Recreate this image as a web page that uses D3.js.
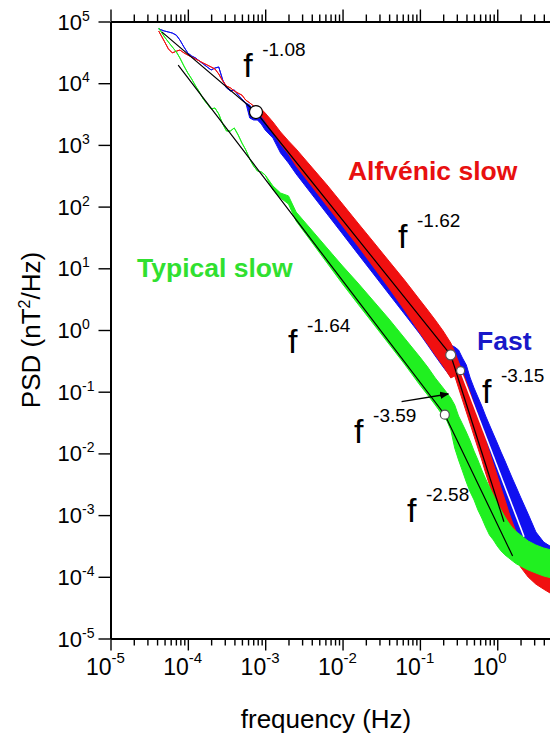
<!DOCTYPE html>
<html><head><meta charset="utf-8">
<script src="https://cdn.jsdelivr.net/npm/d3@7"></script>
<style>body{margin:0;background:#fff}svg{display:block}text{font-family:"Liberation Sans",Arial,sans-serif}</style>
</head><body><svg id="c" width="550" height="740"></svg>
<script>
// ---- data (frequency in Hz, PSD in nT^2/Hz) ----
const freq = [4.2e-5,5.0e-5,5.6e-5,6.3e-5,7.1e-5,7.9e-5,8.9e-5,1.0e-4,1.12e-4,1.26e-4,1.41e-4,1.58e-4,1.78e-4,2.0e-4,2.24e-4,2.51e-4,2.82e-4,3.16e-4,3.55e-4,3.98e-4,4.47e-4,5.01e-4,5.62e-4,6.31e-4,7.08e-4,7.94e-4,8.91e-4,1.0e-3,
  1.26e-3,1.58e-3,2.0e-3,2.51e-3,3.98e-3,6.31e-3,0.01,0.0158,0.0251,0.0398,0.0631,0.1,0.126,0.158,0.2,0.224,0.251,
  0.282,0.316,0.355,0.398,0.447,0.501,0.562,0.631,0.708,0.794,0.891,1.0,1.12,1.26,1.41,1.58,1.78,2.0,2.51,3.16,3.98,5.01];

const alfvenicHi = [7.0e4,4.7e4,3.6e4,3.1e4,3.3e4,3.45e4,3.1e4,2.86e4,2.66e4,2.47e4,2.29e4,2.12e4,1.97e4,1.83e4,1.70e4,1.41e4,1.09e4,9.0e3,8.4e3,7.5e3,6.9e3,6.4e3,5.3e3,4.8e3,4.27e3,4.27e3,3.82e3,3.29e3,
  2.35e3,1.62e3,1.16e3,859,438,224,110,54.2,26.7,13.1,6.46,3.06,2.11,1.45,0.963,0.770,0.615,
  0.440,0.303,0.209,0.144,0.0953,0.0609,0.0419,0.0268,0.0165,0.0105,0.00673,0.00430,0.00275,0.00176,0.00112,7.45e-4,5.13e-4,3.66e-4,2.26e-4,1.67e-4,1.34e-4,1.11e-4];
const alfvenicLo = [7.0e4,4.7e4,3.6e4,3.1e4,3.3e4,3.45e4,3.1e4,2.86e4,2.66e4,2.47e4,2.29e4,2.12e4,1.97e4,1.83e4,1.70e4,1.41e4,1.09e4,9.0e3,8.4e3,7.5e3,6.9e3,6.4e3,5.3e3,4.8e3,4.27e3,3.41e3,2.94e3,2.44e3,
  1.56e3,1.03e3,712,455,216,102,48.5,23.0,10.5,4.80,2.11,0.894,0.593,0.394,0.261,0.209,0.167,
  0.180,0.115,0.0733,0.0469,0.0300,0.0191,0.0122,0.00782,0.00481,0.00308,0.00196,0.00126,8.0e-4,5.13e-4,3.40e-4,2.43e-4,1.80e-4,1.44e-4,9.9e-5,7.6e-5,6.3e-5,5.3e-5];

const fastHi = [7.56e4,7.0e4,6.76e4,6.5e4,6.0e4,5.0e4,3.86e4,3.08e4,2.76e4,2.56e4,2.29e4,2.05e4,1.83e4,1.64e4,1.76e4,1.83e4,1.13e4,8.4e3,7.5e3,7.76e3,6.44e3,5.55e3,4.78e3,4.43e3,3.41e3,3.29e3,3.17e3,2.73e3,
  1.95e3,1.34e3,925,637,313,149,73.1,34.7,17.1,8.39,3.98,1.96,1.35,0.963,0.689,0.615,0.571,
  0.530,0.474,0.352,0.271,0.167,0.115,0.0820,0.0586,0.0404,0.0288,0.0206,0.01475,0.0105,0.00753,0.00538,0.00385,0.00275,0.00196,0.00104,5.32e-4,3.66e-4,3.04e-4];
const fastLo = [7.56e4,7.0e4,6.76e4,6.5e4,6.0e4,5.0e4,3.86e4,3.08e4,2.76e4,2.56e4,2.29e4,2.05e4,1.83e4,1.64e4,1.76e4,1.83e4,1.13e4,8.4e3,7.5e3,7.76e3,6.44e3,5.55e3,4.78e3,2.73e3,2.53e3,2.53e3,2.18e3,1.74e3,
  1.29e3,739,509,338,160,75.9,36.0,17.1,8.09,3.83,1.82,0.861,0.571,0.379,0.251,0.209,0.173,
  0.242,0.155,0.0989,0.0632,0.0404,0.0258,0.0165,0.0105,0.00673,0.00415,0.00265,0.00169,0.00108,6.92e-4,4.75e-4,3.80e-4,3.27e-4,2.93e-4,2.52e-4,2.26e-4,2.09e-4,2.02e-4];

const typicalHi = [7.85e4,5.6e4,4.66e4,3.86e4,3.21e4,2.56e4,1.90e4,1.46e4,1.17e4,9.0e3,7.2e3,5.55e3,4.6e3,3.82e3,3.96e3,3.17e3,2.18e3,1.68e3,1.68e3,1.88e3,1.45e3,1.07e3,826,591,455,378,364,325,
  216,166,149,81.7,41.8,21.3,10.9,5.78,2.95,1.51,0.742,0.365,0.251,0.167,0.115,0.0953,0.0791,
  0.0609,0.0404,0.0300,0.0222,0.0159,0.0109,0.00782,0.00538,0.00385,0.00285,0.00212,0.00157,0.00121,9.3e-4,7.45e-4,6.18e-4,5.32e-4,4.75e-4,3.80e-4,3.27e-4,2.93e-4,2.72e-4];
const typicalLo = [7.85e4,5.6e4,4.66e4,3.86e4,3.21e4,2.56e4,1.90e4,1.46e4,1.17e4,9.0e3,7.2e3,5.55e3,4.6e3,3.82e3,3.96e3,3.17e3,2.18e3,1.68e3,1.68e3,1.88e3,1.45e3,1.07e3,826,591,455,378,364,325,
  186,138,110,58.4,26.7,12.2,5.57,2.64,1.25,0.593,0.281,0.128,0.0884,0.0609,0.0404,0.0335,0.0239,
  0.0122,0.00782,0.00519,0.00344,0.00237,0.00176,0.00121,8.97e-4,6.41e-4,4.75e-4,3.95e-4,3.15e-4,2.62e-4,2.26e-4,2.02e-4,1.80e-4,1.61e-4,1.50e-4,1.29e-4,1.15e-4,1.03e-4,9.6e-5];

// power-law fits: [f, PSD] end points
const fitAlfvenicFast = [[4.6e-5,6.8e4],[7.6e-4,3.41e3],[0.25,0.394]];   // f^-1.08, f^-1.62
const fitAlfvenicSteep = [[0.25,0.394],[1.22,7.8e-4]];                   // f^-3.59
const fitFastSteep = [[0.336,0.219],[2.22,4.47e-4]];                     // f^-3.15
const fitTypical = [[7.5e-5,1.97e4],[0.21,0.0424],[1.58,2.17e-4]];       // f^-1.64, f^-2.58
const breakF = [7.6e-4,0.25,0.336,0.21];
const breakP = [3.41e3,0.394,0.219,0.0424];
const arrowPts = [[0.058,0.069],[0.233,0.0918]];

const slopeLabels = ["-1.08","-1.62","-1.64","-3.15","-3.59","-2.58"];
const slopeF = [5.2e-4,0.0521,1.97e-3,0.635,0.0141,0.068];
const slopeP = [1.26e4,21.3,0.424,0.0656,0.01475,7.73e-4];
const seriesNames = ["Alfvénic slow","Typical slow","Fast"];
const nameF = [0.01175,2.2e-5,0.547];
const nameP = [270,7.23,0.474];

const xTickVals = [1e-5,1e-4,1e-3,1e-2,1e-1,1];
const xTickExp = ["-5","-4","-3","-2","-1","0"];
const yTickVals = [1e-5,1e-4,1e-3,1e-2,1e-1,1,1e1,1e2,1e3,1e4,1e5];
const yTickExp = ["-5","-4","-3","-2","-1","0","1","2","3","4","5"];

// ---- drawing ----
const svg = d3.select("#c");
const W = 550;
const x = d3.scaleLog().domain([1e-5,10]).range([110.5,574.6]);
const y = d3.scaleLog().domain([1e-5,1e5]).range([638.5,21.5]);

svg.append("defs").append("clipPath").attr("id","clip")
  .append("rect").attr("x",110.5).attr("y",21.5).attr("width",W-110.5).attr("height",617);
svg.select("defs").append("marker").attr("id","ah").attr("viewBox","0 0 10 10")
  .attr("refX",9).attr("refY",5).attr("markerWidth",7).attr("markerHeight",7).attr("orient","auto")
  .append("path").attr("d","M0,1L10,5L0,9z").attr("fill","#000");

const plot = svg.append("g").attr("clip-path","url(#clip)");
const area = d3.area().x(d=>x(d.f)).y0(d=>y(d.lo)).y1(d=>y(d.hi));
const series = [
  {hi:fastHi, lo:fastLo, color:"#1010f0"},
  {hi:alfvenicHi, lo:alfvenicLo, color:"#f01010"},
  {hi:typicalHi, lo:typicalLo, color:"#20f020"}
];
series.forEach(s=>{
  const d = freq.map((f,i)=>({f, hi:s.hi[i], lo:s.lo[i]}));
  plot.append("path").attr("d",area(d)).attr("fill",s.color)
    .attr("stroke",s.color).attr("stroke-width",1).attr("stroke-linejoin","round");
});

const line = d3.line().x(d=>x(d[0])).y(d=>y(d[1]));
[fitAlfvenicFast,fitAlfvenicSteep,fitTypical].forEach(p=>{
  plot.append("path").attr("d",line(p)).attr("fill","none").attr("stroke","#000").attr("stroke-width",1.2);
});
plot.append("path").attr("d",line(fitFastSteep)).attr("fill","none").attr("stroke","#fff").attr("stroke-width",1.6);
plot.append("path").attr("d",line(arrowPts)).attr("fill","none").attr("stroke","#000").attr("stroke-width",1.3)
  .attr("marker-end","url(#ah)");
const radii = [6.5,5,4,4.5];
breakF.forEach((f,i)=>{
  plot.append("circle").attr("cx",x(f)).attr("cy",y(breakP[i])).attr("r",radii[i])
    .attr("fill","#fff").attr("stroke",i===0?"#000":"#555").attr("stroke-width",1.2);
});

// slope labels
slopeLabels.forEach((s,i)=>{
  const px = x(slopeF[i]), py = y(slopeP[i]);
  svg.append("text").attr("x",px).attr("y",py).attr("font-size",34).text("f");
  svg.append("text").attr("x",px+19).attr("y",py-21).attr("font-size",19).text(s);
});
const nameColors = ["#e81010","#30e030","#1818c8"];
seriesNames.forEach((s,i)=>{
  svg.append("text").attr("x",x(nameF[i])).attr("y",y(nameP[i])).attr("font-size",26.5)
    .attr("font-weight","bold").attr("fill",nameColors[i]).text(s);
});

// axes
const allX = x.ticks().filter(v=>v<=x.invert(W));
const allY = y.ticks();
const isMajor = v => Math.abs(Math.log10(v)-Math.round(Math.log10(v)))<1e-9;
function styleAxis(g, sign, horiz){
  g.select(".domain").attr("stroke","#000").attr("stroke-width",2);
  g.selectAll(".tick line").attr("stroke","#000").attr("stroke-width",1.4)
    .each(function(v){ const L = isMajor(v)?12:7; d3.select(this).attr(horiz?"y2":"x2", sign*L); });
}
const gB = svg.append("g").attr("transform","translate(0,638.5)")
  .call(d3.axisBottom(x).tickValues(allX).tickFormat("").tickSizeOuter(0));
styleAxis(gB, 1, true);
const gT = svg.append("g").attr("transform","translate(0,21.5)")
  .call(d3.axisTop(x).tickValues(allX).tickFormat("").tickSizeOuter(0));
styleAxis(gT, -1, true);
const gL = svg.append("g").attr("transform","translate(110.5,0)")
  .call(d3.axisLeft(y).tickValues(allY).tickFormat("").tickSizeOuter(0));
styleAxis(gL, -1, false);

// tick labels
xTickVals.forEach((v,i)=>{
  const px = x(v);
  svg.append("text").attr("x",px+1).attr("y",675).attr("font-size",23).attr("text-anchor","end").text("10");
  svg.append("text").attr("x",px+1).attr("y",663).attr("font-size",15).text(xTickExp[i]);
});
yTickVals.forEach((v,i)=>{
  const py = y(v);
  svg.append("text").attr("x",82).attr("y",py+8).attr("font-size",22).attr("text-anchor","end").text("10");
  svg.append("text").attr("x",82).attr("y",py-1).attr("font-size",14).text(yTickExp[i]);
});

// axis titles
svg.append("text").attr("x",326).attr("y",728).attr("font-size",26).attr("text-anchor","middle").text("frequency (Hz)");
const yt = svg.append("text").attr("transform","translate(40,330) rotate(-90)").attr("font-size",26).attr("text-anchor","middle");
yt.append("tspan").text("PSD (nT");
yt.append("tspan").attr("font-size",16).attr("dy",-10).text("2");
yt.append("tspan").attr("dy",10).text("/Hz)");
</script></body></html>
